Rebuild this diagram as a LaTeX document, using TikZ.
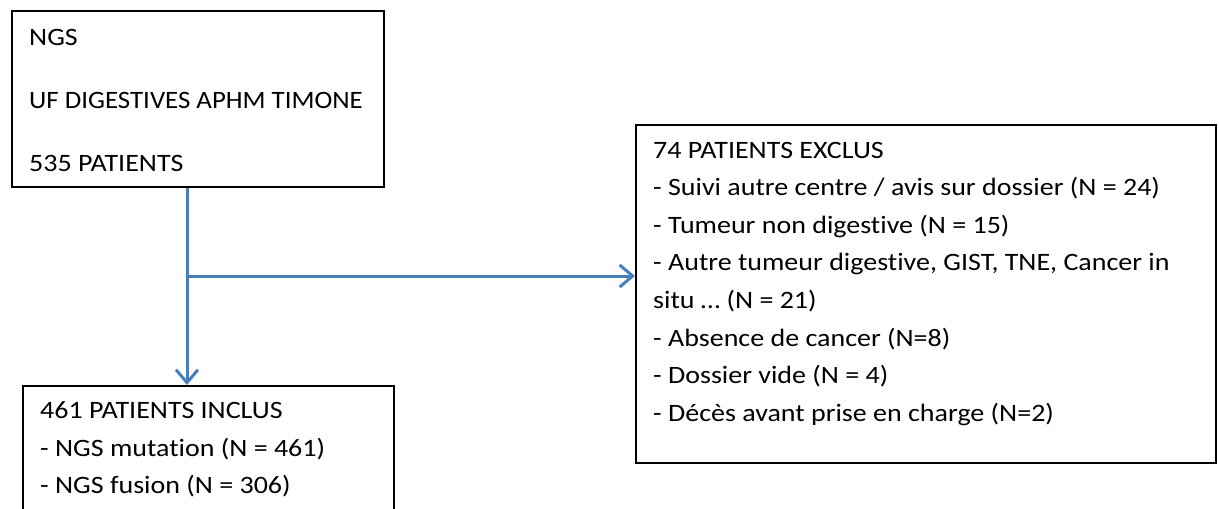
\documentclass[tikz,border=0pt]{standalone}
\usepackage{fontspec}
\setmainfont{Carlito}[FakeStretch=1.12, Ligatures=NoCommon]
\newfontfamily\narrowcaps{Carlito}[FakeStretch=1.075, Ligatures=NoCommon]
\usetikzlibrary{arrows.meta}
\definecolor{arrblue}{HTML}{4A7EBB}
\tikzset{
  box/.style={draw=black, line width=2pt, fill=white, inner sep=0pt, anchor=north west},
  txt/.style={anchor=base west, inner sep=0pt, font=\fontsize{25}{29}\selectfont},
  arr/.style={draw=arrblue, line width=3pt, -{Straight Barb[length=13pt, width=22pt, line width=3pt]}}
}
\begin{document}
\begin{tikzpicture}[x=1pt, y=-1pt]
\useasboundingbox (0,0) rectangle (1219,509);
\clip (0,0) rectangle (1219,509);
\fill[white] (0,0) rectangle (1219,509);
% boxes
\node[box, minimum width=372pt, minimum height=176pt] (src) at (11,10) {};
\node[box, minimum width=580pt, minimum height=338pt] (excl) at (635,124) {};
\node[box, minimum width=371pt, minimum height=160pt] (incl) at (22,385) {};
% source text
\node[txt] (s1) at (29,45) {NGS};
\node[txt] (s2) at (29,108) {\narrowcaps UF DIGESTIVES APHM TIMONE};
\node[txt] (s3) at (29,171) {535 PATIENTS};
% excluded text
\node[txt] (e1) at (653,158) {74 PATIENTS EXCLUS};
\node[txt] (e2) at (653,195.6) {- Suivi autre centre / avis sur dossier (N = 24)};
\node[txt] (e3) at (653,233.2) {- Tumeur non digestive (N = 15)};
\node[txt] (e4) at (653,270.8) {- Autre tumeur digestive, GIST, TNE, Cancer in};
\node[txt] (e5) at (653,308.4) {situ … (N = 21)};
\node[txt] (e6) at (653,346) {- Absence de cancer (N=8)};
\node[txt] (e7) at (653,383.6) {- Dossier vide (N = 4)};
\node[txt] (e8) at (653,421.2) {- Décès avant prise en charge (N=2)};
% included text
\node[txt] (i1) at (40,418) {461 PATIENTS INCLUS};
\node[txt] (i2) at (40,456) {- NGS mutation (N = 461)};
\node[txt] (i3) at (40,493.5) {- NGS fusion (N = 306)};
% connectors
\coordinate (j) at (187,276);
\draw[arr] (src.south -| j) -- (incl.north -| j);
\draw[arr] (j) -- (excl.west |- j);
\end{tikzpicture}
\end{document}
